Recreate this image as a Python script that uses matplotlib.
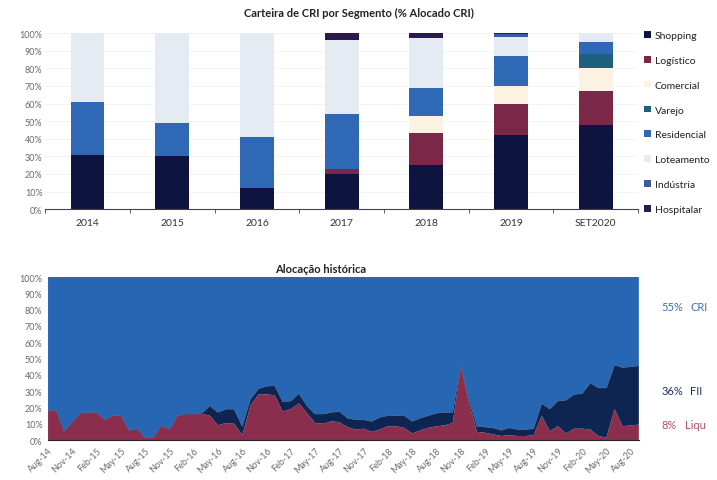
import numpy as np
import matplotlib
matplotlib.use('Agg')
import matplotlib.pyplot as plt

plt.rcParams['font.family'] = ['Lato', 'DejaVu Sans']

# --- Carteira de CRI por Segmento (% alocado) ---
anos = ["2014", "2015", "2016", "2017", "2018", "2019", "SET2020"]
segmentos = ["Shopping", "Logístico", "Comercial", "Varejo", "Residencial",
             "Loteamento", "Indústria", "Hospitalar"]
shopping = [31, 30, 12, 20, 25, 42, 48]
logistico = [0, 0, 0, 3, 18, 18, 19]
comercial = [0, 0, 0, 0, 10, 10, 13]
varejo = [0, 0, 0, 0, 0, 0, 8]
residencial = [30, 19, 29, 31, 16, 17, 7]
loteamento = [39, 51, 59, 42, 28, 11, 5]
industria = [0, 0, 0, 0, 0, 1.5, 0]
hospitalar = [0, 0, 0, 4, 3, 0.5, 0]
cores_seg = ['#0d1440', '#7b2747', '#fbf2e2', '#1d5f7f', '#2f68b5',
             '#e5ebf3', '#3b5aa0', '#2b1b4d']

# --- Alocação histórica (mensal, Aug-14 a Sep-20, % do total) ---
meses_labels = ["Aug-14", "Nov-14", "Feb-15", "May-15", "Aug-15", "Nov-15", "Feb-16",
                "May-16", "Aug-16", "Nov-16", "Feb-17", "May-17", "Aug-17", "Nov-17",
                "Feb-18", "May-18", "Aug-18", "Nov-18", "Feb-19", "May-19", "Aug-19",
                "Nov-19", "Feb-20", "May-20", "Aug-20"]
liquidez = [18, 18.5, 5.5, 11, 16.5, 17, 17, 12.5, 15, 15,
            6, 7, 1.5, 1.5, 9, 6.5, 15, 16, 16, 16,
            15, 9, 10.5, 10, 3, 21, 28, 28, 27.5, 17.5,
            19, 22.5, 16.5, 10.5, 10, 11.5, 11, 8, 6.5, 7,
            5, 6.5, 8.5, 8.5, 7.5, 4, 6, 7.5, 8.5, 9,
            10.5, 45.5, 23, 5, 4.5, 3.5, 2.5, 3, 2.5, 2.5,
            3, 15, 5.5, 8.5, 4, 7, 7, 6.5, 2.5, 1.5,
            19, 8.5, 9, 9.5]
fii = [0, 0, 0, 0, 0, 0, 0, 0, 0, 0,
       0, 0, 0, 0, 0, 0, 0, 0, 0, 0.5,
       6, 8, 8.5, 9, 5.5, 4, 3.5, 5, 6, 6,
       5, 6, 4.5, 5.5, 6, 5.5, 6.5, 5.5, 6, 5.5,
       6.5, 7.5, 6.5, 6.5, 7.5, 7.5, 7.5, 7.5, 8, 8,
       6.5, 1, 2, 3.5, 3.5, 4, 3.5, 4.5, 4, 4,
       4, 7.5, 13.5, 15.5, 20.5, 21, 21.5, 28.5, 29.5, 30.5,
       27, 36, 36, 36]
resumo_pct = ["55%", "36%", "8%"]
resumo_nome = ["CRI", "FII", "Liqu"]
resumo_cor = ['#3d6fb0', '#1f2f55', '#b0506a']

cor_tick = '#6a6a6a'

fig = plt.figure(figsize=(7.17, 4.81), dpi=100)

# ---------- top: stacked bars ----------
ax1 = fig.add_axes([0.063, 0.563, 0.827, 0.366])
valores = [shopping, logistico, comercial, varejo, residencial, loteamento, industria, hospitalar]
x = np.arange(len(anos))
base = np.zeros(len(anos))
handles = []
for nome, vals, cor in zip(segmentos, valores, cores_seg):
    b = ax1.bar(x, vals, bottom=base, width=0.40, color=cor, label=nome, linewidth=0)
    handles.append(b)
    base += np.array(vals)

ax1.set_xlim(-0.5, len(anos) - 0.5)
ax1.set_ylim(0, 100)
ax1.set_yticks(range(0, 101, 10))
ax1.set_yticklabels([f"{v}%" for v in range(0, 101, 10)], fontsize=6.5, color=cor_tick)
ax1.set_xticks(x)
ax1.set_xticklabels(anos, fontsize=7.5, color='#333333')
ax1.set_xticks(np.arange(-0.5, len(anos), 1), minor=True)
ax1.tick_params(axis='x', which='major', length=0, pad=6)
ax1.tick_params(axis='x', which='minor', length=3, color='#444444')
ax1.tick_params(axis='y', length=0, pad=2)
for s in ['top', 'right', 'left']:
    ax1.spines[s].set_visible(False)
ax1.spines['bottom'].set_color('#444444')
ax1.spines['bottom'].set_linewidth(0.8)
ax1.yaxis.grid(True, color='#eef2f6', linewidth=0.6)
ax1.set_axisbelow(True)

fig.text(0.5, 0.973, "Carteira de CRI por Segmento (% Alocado CRI)", ha='center', va='center',
         fontsize=8, fontweight='bold', color='#222222')

fig.legend(handles=handles, labels=segmentos, loc='upper left', bbox_to_anchor=(0.893, 0.942),
           frameon=False, fontsize=7.5, handlelength=0.6, handleheight=0.6, handletextpad=0.4,
           labelspacing=1.52, labelcolor='#222222', borderaxespad=0)

# ---------- bottom: stacked area ----------
ax2 = fig.add_axes([0.067, 0.083, 0.824, 0.339])
meses = np.arange(len(liquidez))
liq = np.array(liquidez)
f = np.array(fii)
cri = 100 - liq - f
ax2.stackplot(meses, liq, f, cri, colors=['#8b2e4e', '#0e2552', '#2766b2'], linewidth=0)
ax2.plot(meses, liq + f, color='#3a5f90', linewidth=0.5)
ax2.set_xlim(0, len(liquidez) - 1)
ax2.set_ylim(0, 100)
ax2.set_yticks(range(0, 101, 10))
ax2.set_yticklabels([f"{v}%" for v in range(0, 101, 10)], fontsize=6.5, color=cor_tick)
ax2.set_xticks(np.arange(0, len(liquidez), 3))
ax2.set_xticklabels(meses_labels, rotation=45, ha='right', rotation_mode='anchor',
                    fontsize=6.5, color=cor_tick)
ax2.tick_params(axis='both', length=0, pad=4)
for s in ['top', 'right', 'left']:
    ax2.spines[s].set_visible(False)
ax2.spines['bottom'].set_color('#222222')
ax2.spines['bottom'].set_linewidth(0.8)

fig.text(0.447, 0.44, "Alocação histórica", ha='center', va='center',
         fontsize=8, fontweight='bold', color='#222222')

for pct, nome, cor, yy in zip(resumo_pct, resumo_nome, resumo_cor, [0.36, 0.187, 0.116]):
    fig.text(0.923, yy, pct, ha='left', va='center', fontsize=8, color=cor)
    fig.text(0.963 if len(pct) == 3 else 0.955, yy, nome, ha='left', va='center',
             fontsize=8, color=cor)

fig.savefig('out.png', dpi=100)
